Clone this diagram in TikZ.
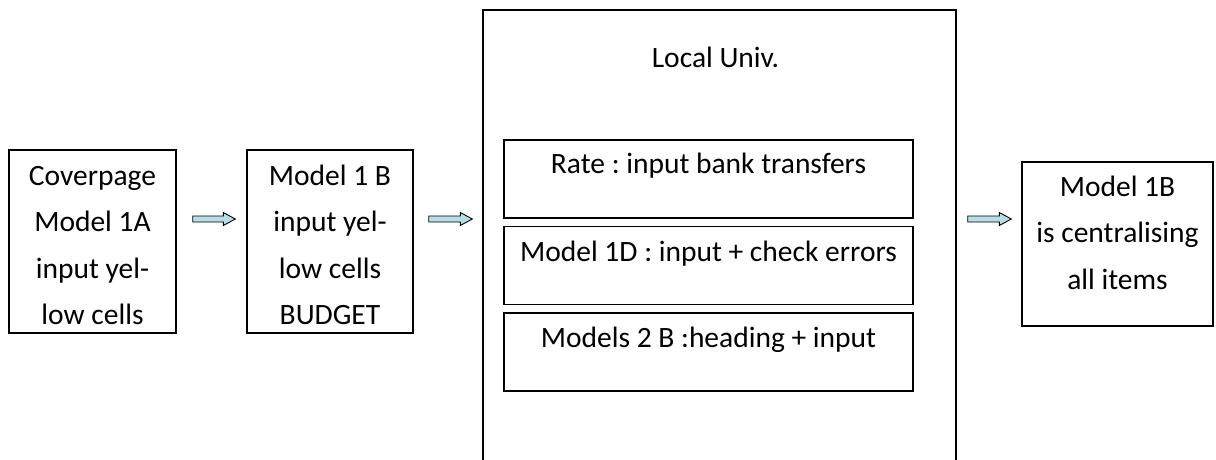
\documentclass[tikz,border=0pt]{standalone}
\usepackage{fontspec}
\setmainfont{Carlito}
\usetikzlibrary{calc,positioning}
\definecolor{arrowblue}{RGB}{183,222,228}
\frenchspacing
\tikzstyle{fatarrow} = [draw=black, line width=0.9pt, fill=arrowblue, line join=miter]
% text of a box: width, height, first baseline, lines
\newcommand{\boxlines}[4]{\parbox[c][#2][t]{#1}{\centering\rule{0pt}{#3}#4}}
\newcommand{\blockarrow}[2]{%
  \path[fatarrow] ($(#1)+(0,-3)$) -- ($(#2)+(-12,-3)$) -- ($(#2)+(-12,-6.5)$) -- (#2)
    -- ($(#2)+(-12,6.5)$) -- ($(#2)+(-12,3)$) -- ($(#1)+(0,3)$) -- cycle;}

\begin{document}
\begin{tikzpicture}[x=1pt, y=-1pt, node distance=7pt,
    step box/.style={rectangle, draw, line width=1.4pt, inner sep=0pt, fill=white,
      font=\fontsize{29.5}{46.5}\selectfont}]
        \clip (0,0) rectangle (1216,459);

        \node[step box] (Cover) at (92.5,241.5) {\boxlines{167pt}{183pt}{35pt}{Coverpage\\Model 1A\\input yel-\\low cells}};
        \node[step box] (Budget) at (330,241.5) {\boxlines{166pt}{183pt}{35pt}{Model 1 B\\input yel-\\low cells\\BUDGET}};
        \node[step box] (LocalUniv) at (719.5,245) {\boxlines{473pt}{470pt}{57pt}{Local Univ.\hspace*{8pt}}};
        \node[step box] (Rate) at (708.5,179) {\boxlines{409pt}{78pt}{33pt}{Rate : input bank transfers}};
        \node[step box, below=of Rate] (ModelD) {\boxlines{409pt}{78pt}{35pt}{Model 1D : input + check errors}};
        \node[step box, below=of ModelD] (ModelsB) {\boxlines{409pt}{78pt}{35pt}{Models 2 B :heading + input}};
        \node[step box] (Central) at (1117.5,244) {\boxlines{191pt}{164pt}{34pt}{Model 1B\\is centralising\\all items}};

        \coordinate (a1) at ($(Cover.east)+(16,-22.5)$);
        \coordinate (b1) at ($(Budget.west)+(-11,-22.5)$);
        \coordinate (a2) at ($(Budget.east)+(15,-22.5)$);
        \coordinate (b2) at ($(LocalUniv.west |- a2)+(-10,0)$);
        \coordinate (a3) at ($(LocalUniv.east |- a2)+(11,0)$);
        \coordinate (b3) at ($(Central.west |- a2)+(-10,0)$);

        \blockarrow{a1}{b1}
        \blockarrow{a2}{b2}
        \blockarrow{a3}{b3}
    \end{tikzpicture}
\end{document}
